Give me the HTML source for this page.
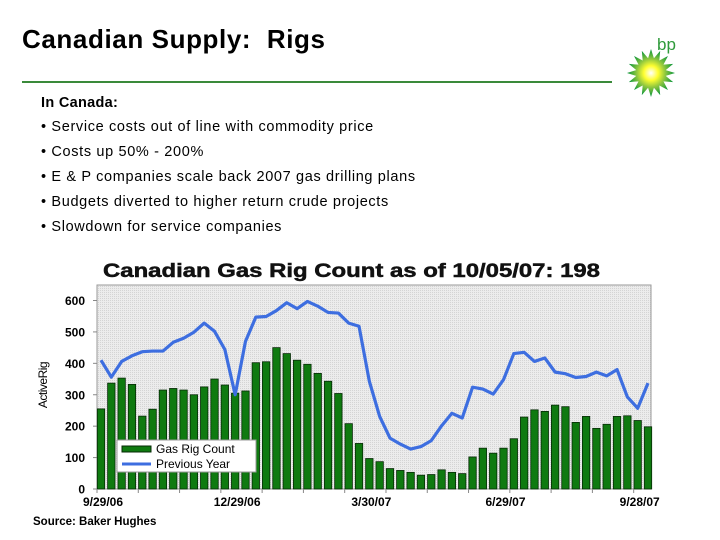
<!DOCTYPE html>
<html><head><meta charset="utf-8"><style>
body{margin:0;width:720px;height:540px;background:#fff;overflow:hidden;font-family:"Liberation Sans",Arial,sans-serif;position:relative}
.t{position:absolute;left:22px;top:24px;font-size:26px;font-weight:bold;color:#000;letter-spacing:0.6px}
.rule{position:absolute;left:22px;top:81px;width:590px;height:2px;background:#3a8a3a}
.b{position:absolute;left:41px;font-size:14.5px;color:#000;letter-spacing:0.65px}
</style></head><body>
<div class="t">Canadian Supply:&nbsp; Rigs</div>
<div class="rule"></div>
<svg style="position:absolute;left:615px;top:28px" width="80" height="80">
<defs><radialGradient id="g"><stop offset="0" stop-color="#fff"/><stop offset="0.3" stop-color="#ffff30"/><stop offset="0.6" stop-color="#8dc63f"/><stop offset="1" stop-color="#00913a"/></radialGradient></defs>
<text x="42" y="22" font-size="17" fill="#2e9a3a" font-family="Liberation Sans">bp</text>
<g id="sun"></g>
</svg>
<div class="b" style="top:95px;font-weight:bold;letter-spacing:0.3px">In Canada:</div>
<div class="b" style="top:119px">• Service costs out of line with commodity price</div>
<div class="b" style="top:144px">• Costs up 50% - 200%</div>
<div class="b" style="top:169px">• E &amp; P companies scale back 2007 gas drilling plans</div>
<div class="b" style="top:194px">• Budgets diverted to higher return crude projects</div>
<div class="b" style="top:219px">• Slowdown for service companies</div>
<svg id="chart" style="position:absolute;left:0;top:0" width="720" height="540">
<defs><pattern id="dots" width="2" height="2" patternUnits="userSpaceOnUse"><rect width="2" height="2" fill="#ececec"/><rect width="1" height="1" fill="#d4d4d4"/></pattern></defs>
<text x="103" y="277" font-size="19" font-weight="bold" fill="#111" stroke="#111" stroke-width="0.5" textLength="497" lengthAdjust="spacingAndGlyphs">Canadian Gas Rig Count as of 10/05/07: 198</text>
<rect x="97" y="285" width="554" height="204" fill="url(#dots)" stroke="#999"/>
<text transform="translate(47,385) rotate(-90)" font-size="12" text-anchor="middle" fill="#000" letter-spacing="-0.5">ActiveRig</text>
<text x="33" y="525" font-size="11.5" font-weight="bold" fill="#000">Source: Baker Hughes</text>
<g id="marks"></g>
</svg>
<script>
const rigCount=[255,337,353,333,232,254,315,320,315,300,325,350,331,305,312,402,405,450,431,410,397,368,343,304,208,145,97,87,65,59,53,44,46,61,53,49,102,130,114,130,160,229,252,247,267,262,212,231,193,206,231,233,218,198];
const prevYear=[410,356,406,424,437,439,439,467,480,499,528,502,444,300,470,547,549,568,593,574,597,582,562,560,528,518,343,231,162,143,127,135,154,201,241,226,324,318,302,348,431,435,406,417,372,367,355,358,372,360,380,293,257,337];
const yTicks=[0,100,200,300,400,500,600];
const xLabels=[{i:0,t:"9/29/06"},{i:13,t:"12/29/06"},{i:26,t:"3/30/07"},{i:39,t:"6/29/07"},{i:52,t:"9/28/07"}];
const NS="http://www.w3.org/2000/svg";
const x0=101,x1=648,y0=489,yTop=300.5;
const xs=i=>x0+i*(x1-x0)/(rigCount.length-1);
const ys=v=>y0-v*(y0-yTop)/600;
const g=document.getElementById('marks');
function mk(t,a){const e=document.createElementNS(NS,t);for(const k in a)e.setAttribute(k,a[k]);g.appendChild(e);return e;}
yTicks.forEach(v=>{
 const e=mk('text',{x:85,y:ys(v)+4.5,'font-size':12,'font-weight':'bold','text-anchor':'end',fill:'#000'});e.textContent=v;
 
 
 const l=mk('line',{x1:93,x2:97,y1:ys(v),y2:ys(v),stroke:'#888'});
 
 
});
rigCount.forEach((v,i)=>{
 const r=mk('rect',{x:xs(i)-3.7,y:ys(v),width:7.4,height:y0-ys(v),fill:'#0f7a10',stroke:'#062a06','stroke-width':0.8});
 
 
});
const p=mk('polyline',{points:prevYear.map((v,i)=>xs(i)+','+ys(v)).join(' '),fill:'none',stroke:'#3d6ee0','stroke-width':3.2,'stroke-linejoin':'round'});


for(let i=0;i<rigCount.length;i+=4){const l=mk('line',{x1:xs(i)-4,x2:xs(i)-4,y1:489,y2:493,stroke:'#888'});
 
 }
xLabels.forEach(o=>{
 const e=mk('text',{x:xs(o.i)+2,y:506,'font-size':12,'font-weight':'bold','text-anchor':'middle',fill:'#000'});e.textContent=o.t;
 
 
});
const lg=mk('rect',{x:117,y:440,width:139,height:32,fill:'#fff',stroke:'#999'});


const s1=mk('rect',{x:122,y:446,width:29,height:6,fill:'#0f7a10',stroke:'#062a06'});


const t1=mk('text',{x:156,y:453,'font-size':12,fill:'#000'});t1.textContent='Gas Rig Count';


const s2=mk('line',{x1:122,x2:151,y1:464,y2:464,stroke:'#3d6ee0','stroke-width':3});


const t2=mk('text',{x:156,y:468,'font-size':12,fill:'#000'});t2.textContent='Previous Year';


// bp sun
const sun=document.getElementById('sun');let pts=[];
for(let k=0;k<32;k++){const a=k*Math.PI/16,r=k%2?15:24;pts.push((36+r*Math.cos(a))+','+(45+r*Math.sin(a)));}
const sp=document.createElementNS(NS,'polygon');sp.setAttribute('points',pts.join(' '));sp.setAttribute('fill','url(#g)');sun.appendChild(sp);
</script>
</body></html>
